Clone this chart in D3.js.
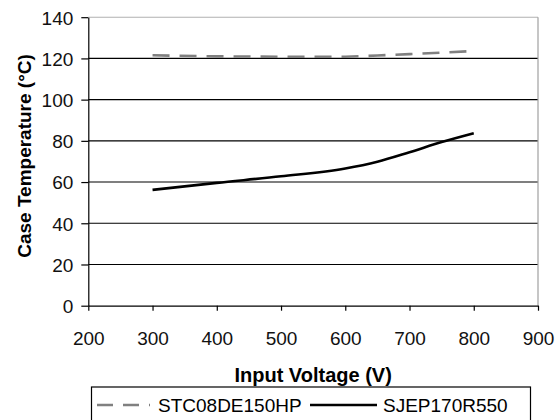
<!DOCTYPE html>
<html>
<head>
<meta charset="utf-8">
<script src="https://cdn.jsdelivr.net/npm/d3@7"></script>
<style>
  body { margin: 0; background: #fff; }
  text { font-family: "Liberation Sans", Arial, sans-serif; }
</style>
</head>
<body>
<div id="chart"></div>
<script>
'use strict';

// Values.
const voltages = [300, 400, 500, 600, 650, 700, 750, 800];
const stcTemps = [121.5, 121.0, 120.8, 120.8, 121.4, 122.1, 122.8, 123.6];
const sjepTemps = [56.2, 59.6, 62.8, 66.6, 69.9, 74.5, 79.4, 83.7];
const seriesNames = ['STC08DE150HP', 'SJEP170R550'];
const xTicks = [200, 300, 400, 500, 600, 700, 800, 900];
const yTicks = [0, 20, 40, 60, 80, 100, 120, 140];

const width = 560;
const height = 420;
const plot = {left: 88.3, right: 538, top: 17.2, bottom: 305.7};

const svg = d3.select('#chart')
  .append('svg')
  .attr('width', width)
  .attr('height', height);

const x = d3.scaleLinear().domain([200, 900]).range([plot.left, plot.right]);
const y = d3.scaleLinear().domain([0, 140]).range([plot.bottom, plot.top]);

// horizontal grid lines (the top one is the light plot border)
svg.append('g')
  .selectAll('line')
  .data(yTicks.filter(d => d > 0))
  .join('line')
  .attr('x1', plot.left)
  .attr('x2', plot.right)
  .attr('y1', d => y(d))
  .attr('y2', d => y(d))
  .attr('stroke', d => d === 140 ? '#b0b0b0' : '#000')
  .attr('stroke-width', 1.1);

// right border
svg.append('line')
  .attr('x1', plot.right).attr('x2', plot.right)
  .attr('y1', plot.top).attr('y2', plot.bottom)
  .attr('stroke', '#a0a0a0')
  .attr('stroke-width', 1.2);

const xAxis = svg.append('g')
  .attr('transform', `translate(0,${plot.bottom})`)
  .call(d3.axisBottom(x).tickValues(xTicks).tickSize(5).tickSizeOuter(0).tickPadding(21));

const yAxis = svg.append('g')
  .attr('transform', `translate(${plot.left},0)`)
  .call(d3.axisLeft(y).tickValues(yTicks).tickSize(7).tickSizeOuter(0).tickPadding(8));

[xAxis, yAxis].forEach(axis => {
  axis.select('.domain').attr('stroke', '#000').attr('stroke-width', 1.2);
  axis.selectAll('.tick line').attr('stroke', '#000').attr('stroke-width', 1.2);
  axis.selectAll('.tick text')
    .attr('font-family', '"Liberation Sans", Arial, sans-serif')
    .attr('font-size', '19px')
    .attr('fill', '#111');
});
yAxis.selectAll('.tick text').attr('dy', '0.36em');
xAxis.selectAll('.tick text').attr('dy', '0.71em');

const line = d3.line()
  .x(d => x(d[0]))
  .y(d => y(d[1]));

svg.append('path')
  .datum(d3.zip(voltages, stcTemps))
  .attr('d', line)
  .attr('fill', 'none')
  .attr('stroke', '#808080')
  .attr('stroke-width', 2.6)
  .attr('stroke-dasharray', '17,10');

svg.append('path')
  .datum(d3.zip(voltages, sjepTemps))
  .attr('d', d3.line().curve(d3.curveMonotoneX).x(d => x(d[0])).y(d => y(d[1])))
  .attr('fill', 'none')
  .attr('stroke', '#000')
  .attr('stroke-width', 2.6);

// axis titles
svg.append('text')
  .attr('x', (plot.left + plot.right) / 2)
  .attr('y', 382)
  .attr('text-anchor', 'middle')
  .attr('font-size', '20px')
  .attr('font-weight', 'bold')
  .text('Input Voltage (V)');

svg.append('text')
  .attr('transform', 'translate(31,156) rotate(-90)')
  .attr('text-anchor', 'middle')
  .attr('font-size', '19px')
  .attr('font-weight', 'bold')
  .text('Case Temperature (°C)');

// legend
const legend = svg.append('g');
legend.append('rect')
  .attr('x', 91.5)
  .attr('y', 387)
  .attr('width', 439)
  .attr('height', 45)
  .attr('fill', '#fff')
  .attr('stroke', '#000')
  .attr('stroke-width', 1.2);

const legendItems = [
  {name: seriesNames[0], color: '#808080', dash: '16,10,16,10,3,20', x0: 97, x1: 150, tx: 158},
  {name: seriesNames[1], color: '#000', dash: null, x0: 310, x1: 377, tx: 383}
];

legendItems.forEach(item => {
  legend.append('line')
    .attr('x1', item.x0).attr('x2', item.x1)
    .attr('y1', 405).attr('y2', 405)
    .attr('stroke', item.color)
    .attr('stroke-width', 2.6)
    .attr('stroke-dasharray', item.dash);
  legend.append('text')
    .attr('x', item.tx)
    .attr('y', 412)
    .attr('font-size', '19px')
    .text(item.name);
});
</script>
</body>
</html>
